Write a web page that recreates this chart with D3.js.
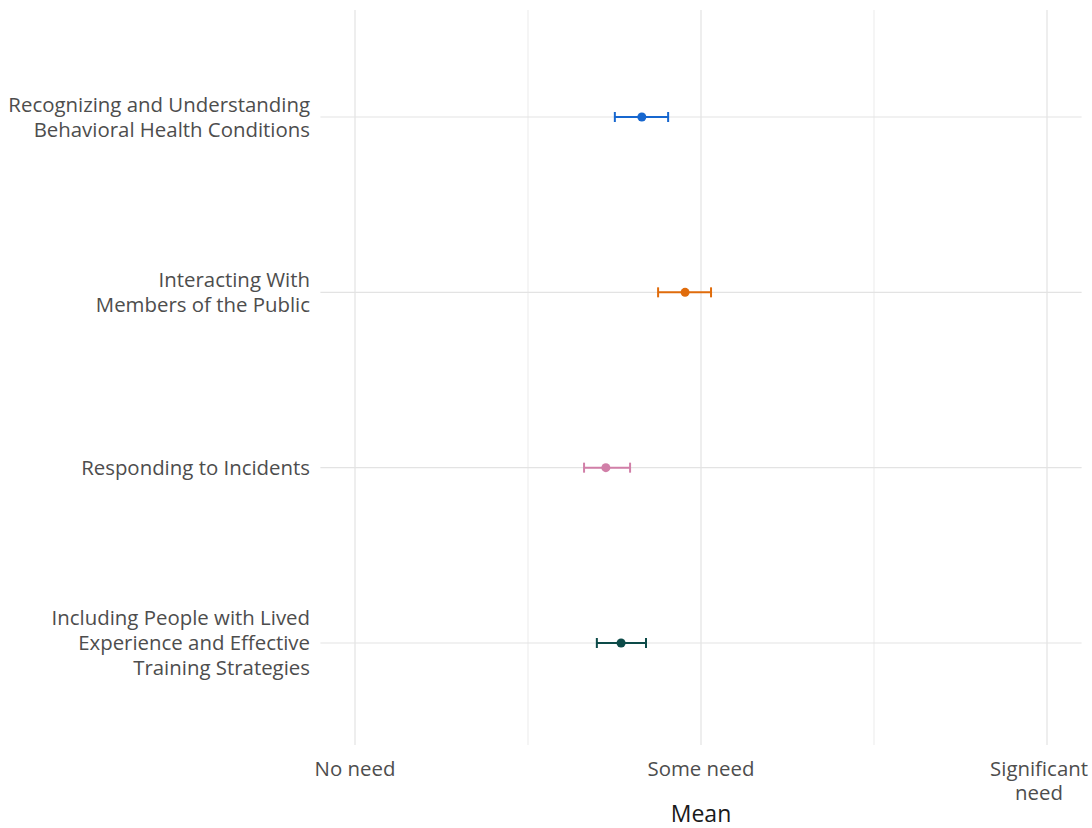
<!DOCTYPE html>
<html><head><meta charset="utf-8">
<script src="https://cdn.jsdelivr.net/npm/d3@7"></script>
<style>body{margin:0;background:#fff;}svg{display:block;}</style>
</head><body>
<svg id="chart" width="1092" height="828"></svg>
<script>
const categories = [
  ["Recognizing and Understanding", "Behavioral Health Conditions"],
  ["Interacting With", "Members of the Public"],
  ["Responding to Incidents"],
  ["Including People with Lived", "Experience and Effective", "Training Strategies"]
];
const means = [1.829, 1.954, 1.725, 1.769];
const lower = [1.751, 1.876, 1.662, 1.699];
const upper = [1.905, 2.029, 1.795, 1.841];
const colors = ["#1767cf", "#e06c0c", "#d17fa8", "#0d4b49"];
const tickValues = [1, 2, 3];
const tickLabels = [["No need"], ["Some need"], ["Significant", "need"]];
const minorTicks = [1.5, 2.5];
const xTitle = "Mean";

(function () {
const svg = d3.select("#chart");
const font = "'Open Sans', 'Noto Sans', sans-serif";
const W = 1092;
const pLeft = 320.4, pRight = 1081.6, pTop = 10, pBottom = 745;
const x = d3.scaleLinear().domain([0.9, 3.1]).range([pLeft, pRight]);
const keys = categories.map((c, i) => i);
const y = d3.scalePoint().domain(keys).range([117, 643]);

const grid = svg.append("g");
grid.selectAll("line.minor").data(minorTicks).join("line").attr("class", "minor")
  .attr("x1", d => x(d)).attr("x2", d => x(d)).attr("y1", pTop).attr("y2", pBottom)
  .attr("stroke", "#ebebeb").attr("stroke-width", 1);
grid.selectAll("line.major").data(tickValues).join("line").attr("class", "major")
  .attr("x1", d => x(d)).attr("x2", d => x(d)).attr("y1", pTop).attr("y2", pBottom)
  .attr("stroke", "#e3e3e3").attr("stroke-width", 1.2);
grid.selectAll("line.h").data(keys).join("line").attr("class", "h")
  .attr("x1", pLeft).attr("x2", pRight).attr("y1", d => y(d)).attr("y2", d => y(d))
  .attr("stroke", "#e3e3e3").attr("stroke-width", 1.2);

const yl = svg.append("g");
keys.forEach(i => {
  const lines = categories[i];
  const lh = 25;
  lines.forEach((ln, j) => {
    yl.append("text").attr("x", 310).attr("text-anchor", "end")
      .attr("font-family", font).attr("font-size", 20.4).attr("fill", "#4d4d4d")
      .attr("y", y(i) + (j - (lines.length - 1) / 2) * lh + 7).text(ln);
  });
});

const xl = svg.append("g");
tickValues.forEach((v, i) => {
  const lines = tickLabels[i];
  const texts = lines.map((ln, j) => xl.append("text").attr("text-anchor", "middle")
    .attr("font-family", font).attr("font-size", 20.4).attr("fill", "#4d4d4d")
    .attr("x", x(v)).attr("y", 776 + j * 24).text(ln));
  const maxW = d3.max(texts, t => t.node().getComputedTextLength());
  const cx = Math.min(x(v), W - 4 - maxW / 2);
  texts.forEach(t => t.attr("x", cx));
});
svg.append("text").attr("x", (pLeft + pRight) / 2).attr("y", 822)
  .attr("text-anchor", "middle").attr("font-family", font).attr("font-size", 23)
  .attr("fill", "#1a1a1a").text(xTitle);

const eb = svg.append("g");
keys.forEach(i => {
  const g = eb.append("g").attr("stroke", colors[i]).attr("stroke-width", 2);
  g.append("line").attr("x1", x(lower[i])).attr("x2", x(upper[i]))
    .attr("y1", y(i)).attr("y2", y(i));
  [lower[i], upper[i]].forEach(v => {
    g.append("line").attr("x1", x(v)).attr("x2", x(v))
      .attr("y1", y(i) - 5).attr("y2", y(i) + 5);
  });
  eb.append("circle").attr("cx", x(means[i])).attr("cy", y(i)).attr("r", 4.5)
    .attr("fill", colors[i]);
});
})();
</script>
</body></html>
